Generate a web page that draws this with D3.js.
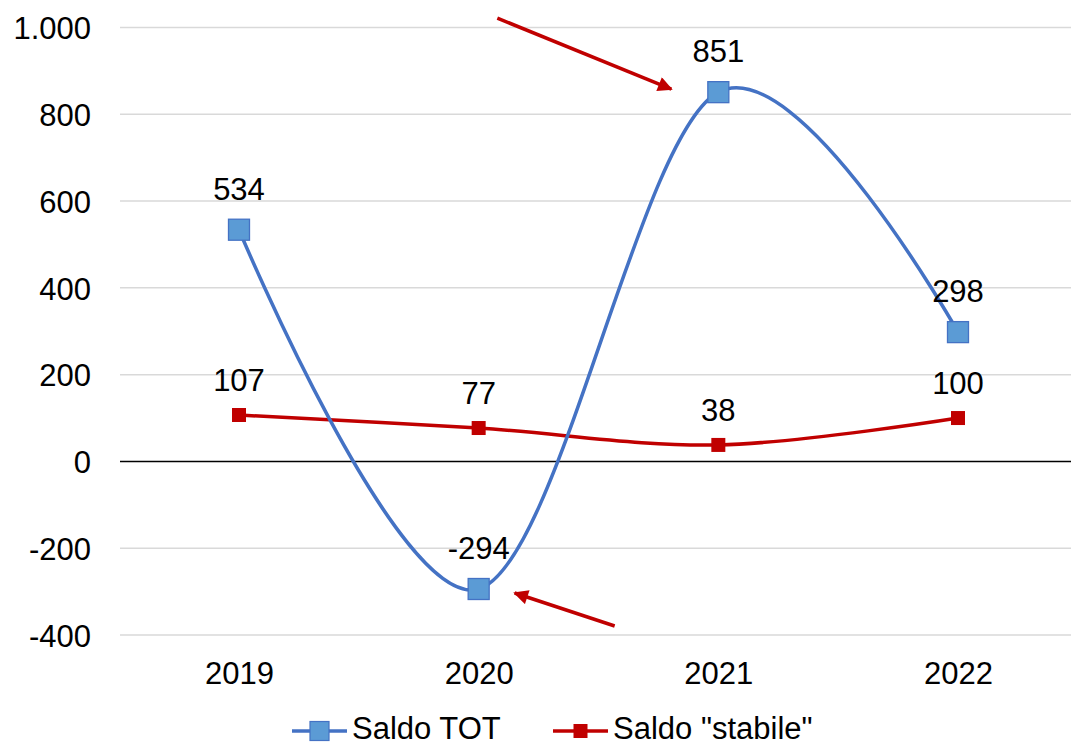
<!DOCTYPE html>
<html><head><meta charset="utf-8">
<script src="https://cdn.jsdelivr.net/npm/d3@7"></script>
<style>
html,body{margin:0;padding:0;background:#fff;}
svg{display:block;font-family:"Liberation Sans",Arial,sans-serif;}
</style></head>
<body>
<svg id="c" width="1071" height="746"></svg>
<script>
const categories = ["2019", "2020", "2021", "2022"];
const saldoTot = [534, -294, 851, 298];
const saldoStabile = [107, 77, 38, 100];
const yTicks = [-400, -200, 0, 200, 400, 600, 800, 1000];
const seriesNames = ["Saldo TOT", "Saldo \"stabile\""];

const svg = d3.select("#c");
const fs = 31;
const x = d3.scalePoint().domain(categories).range([239, 958]);
const y = d3.scaleLinear().domain([-400, 1000]).range([635, 27.5]);
const loc = d3.formatLocale({decimal: ",", thousands: ".", grouping: [3], currency: ["€", ""], minus: "-"});
const fmt = loc.format(",d");

// gridlines
svg.append("g").selectAll("line").data(yTicks.filter(d => d !== 0)).join("line")
  .attr("x1", 120).attr("x2", 1080)
  .attr("y1", d => y(d)).attr("y2", d => y(d))
  .attr("stroke", "#d9d9d9").attr("stroke-width", 1.5);

// y axis labels
const yAxis = d3.axisLeft(y).tickValues(yTicks).tickSize(0).tickPadding(0).tickFormat(fmt);
const ga = svg.append("g").attr("transform", "translate(91,0)").call(yAxis);
ga.select(".domain").remove();
ga.selectAll("text").attr("font-size", fs).attr("fill", "#000").attr("font-family", "Liberation Sans, Arial, sans-serif").attr("dy", "0.36em");

// zero line
svg.append("line").attr("x1", 120).attr("x2", 1080).attr("y1", y(0)).attr("y2", y(0))
  .attr("stroke", "#000").attr("stroke-width", 1.5);

// x labels
const xAxis = d3.axisBottom(x).tickSize(0).tickPadding(0);
const gx = svg.append("g").attr("transform", "translate(0,684)").call(xAxis);
gx.select(".domain").remove();
gx.selectAll("text").attr("font-size", fs).attr("fill", "#000").attr("font-family", "Liberation Sans, Arial, sans-serif").attr("dy", 0);

const line = d3.line().x((d, i) => x(categories[i])).y(d => y(d)).curve(d3.curveCardinal.tension(0));

// red series
svg.append("path").datum(saldoStabile).attr("d", line).attr("fill", "none")
  .attr("stroke", "#C00000").attr("stroke-width", 3.5);
// blue series
svg.append("path").datum(saldoTot).attr("d", line).attr("fill", "none")
  .attr("stroke", "#4472C4").attr("stroke-width", 3.5);

// markers
svg.append("g").selectAll("rect").data(saldoStabile).join("rect")
  .attr("x", (d, i) => x(categories[i]) - 7).attr("y", d => y(d) - 7)
  .attr("width", 14).attr("height", 14).attr("fill", "#C00000");
svg.append("g").selectAll("rect").data(saldoTot).join("rect")
  .attr("x", (d, i) => x(categories[i]) - 10.5).attr("y", d => y(d) - 10.5)
  .attr("width", 21).attr("height", 21).attr("fill", "#5B9BD5")
  .attr("stroke", "#4472C4").attr("stroke-width", 1.3);

// data labels
svg.append("g").selectAll("text").data(saldoTot).join("text")
  .attr("x", (d, i) => x(categories[i])).attr("y", d => y(d) - 30)
  .attr("text-anchor", "middle").attr("font-size", fs).text(d => fmt(d));
svg.append("g").selectAll("text").data(saldoStabile).join("text")
  .attr("x", (d, i) => x(categories[i])).attr("y", d => y(d) - 24)
  .attr("text-anchor", "middle").attr("font-size", fs).text(d => fmt(d));

// arrows (annotations, relative to data points)
const defs = svg.append("defs");
defs.append("marker").attr("id", "ah").attr("viewBox", "0 0 10 10").attr("refX", 9).attr("refY", 5)
  .attr("markerWidth", 4.8).attr("markerHeight", 4.2).attr("orient", "auto")
  .attr("markerUnits", "strokeWidth")
  .append("path").attr("d", "M0,0 L10,5 L0,10 z").attr("fill", "#C00000");
const arrows = [
  {cat: "2021", v: saldoTot[2], tail: [-221, -74], tip: [-47, -3]},
  {cat: "2020", v: saldoTot[1], tail: [136, 37], tip: [36, 4]}
];
svg.append("g").selectAll("line").data(arrows).join("line")
  .attr("x1", d => x(d.cat) + d.tail[0]).attr("y1", d => y(d.v) + d.tail[1])
  .attr("x2", d => x(d.cat) + d.tip[0]).attr("y2", d => y(d.v) + d.tip[1])
  .attr("stroke", "#C00000").attr("stroke-width", 3.5).attr("marker-end", "url(#ah)");

// legend
const leg = svg.append("g");
const legItems = [
  {name: seriesNames[0], x0: 292, color: "#4472C4", fill: "#5B9BD5", size: 19, stroke: "#4472C4"},
  {name: seriesNames[1], x0: 553, color: "#C00000", fill: "#C00000", size: 14, stroke: "none"}
];
const li = leg.selectAll("g").data(legItems).join("g").attr("transform", d => `translate(${d.x0},731)`);
li.append("line").attr("x1", 0).attr("x2", 55).attr("stroke", d => d.color).attr("stroke-width", 3.5);
li.append("rect").attr("x", d => 27.5 - d.size / 2).attr("y", d => -d.size / 2)
  .attr("width", d => d.size).attr("height", d => d.size)
  .attr("fill", d => d.fill).attr("stroke", d => d.stroke).attr("stroke-width", 1.2);
li.append("text").attr("x", 60).attr("y", 8).attr("font-size", fs).text(d => d.name);
</script>
</body></html>
